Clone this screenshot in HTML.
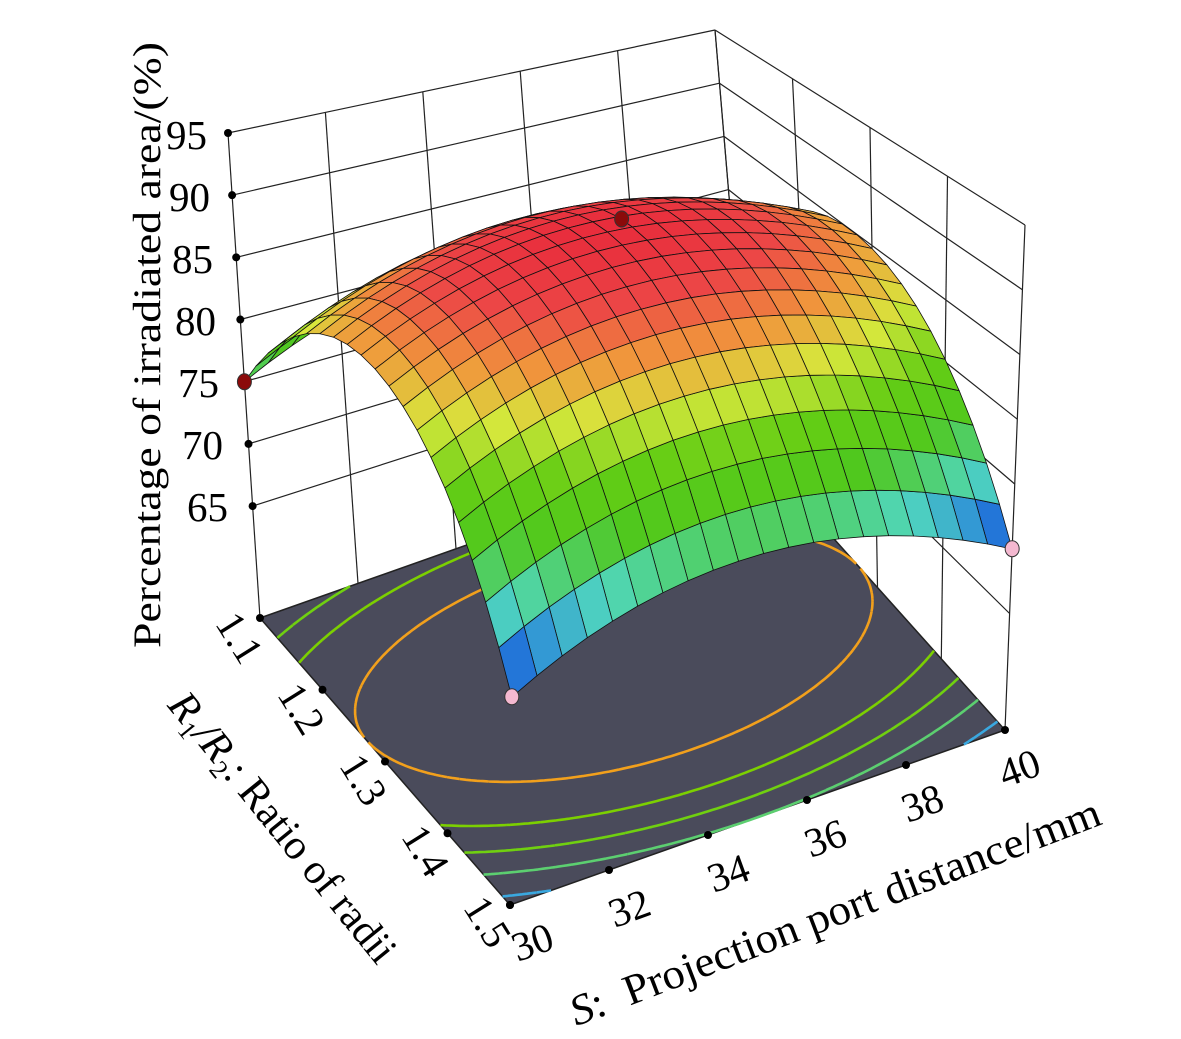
<!DOCTYPE html>
<html><head><meta charset="utf-8">
<style>
html,body{margin:0;padding:0;background:#fff;}
svg{display:block;}
text{font-family:"Liberation Serif",serif;fill:#000;}
</style></head>
<body>
<svg id="s" width="1181" height="1039" viewBox="0 0 1181 1039" xmlns="http://www.w3.org/2000/svg">
<g id="walls"></g>
<g id="floor"></g>
<g id="surf"></g>
<g id="over"></g>
<text x="207" y="149" font-size="41" text-anchor="end">95</text>
<text x="210" y="211" font-size="41" text-anchor="end">90</text>
<text x="213" y="273" font-size="41" text-anchor="end">85</text>
<text x="216" y="335" font-size="41" text-anchor="end">80</text>
<text x="219" y="397" font-size="41" text-anchor="end">75</text>
<text x="223" y="459" font-size="41" text-anchor="end">70</text>
<text x="228" y="521" font-size="41" text-anchor="end">65</text>
<text transform="translate(160,345) rotate(-90)" font-size="39" text-anchor="middle" textLength="606" lengthAdjust="spacingAndGlyphs">Percentage of irradiated area/(%)</text>
<text transform="translate(228,645) rotate(58)" font-size="41" text-anchor="middle">1.1</text>
<text transform="translate(290,716) rotate(58)" font-size="41" text-anchor="middle">1.2</text>
<text transform="translate(352,787) rotate(58)" font-size="41" text-anchor="middle">1.3</text>
<text transform="translate(414,858) rotate(58)" font-size="41" text-anchor="middle">1.4</text>
<text transform="translate(476,929) rotate(58)" font-size="41" text-anchor="middle">1.5</text>
<text transform="translate(272,836) rotate(51)" font-size="42" text-anchor="middle"><tspan font-style="italic">R</tspan><tspan font-size="26" dy="8">1</tspan><tspan dy="-8" font-style="italic">/R</tspan><tspan font-size="26" dy="8">2</tspan><tspan dy="-8">: Ratio of radii</tspan></text>
<text transform="translate(537,955) rotate(-20)" font-size="41" text-anchor="middle">30</text>
<text transform="translate(634,921) rotate(-20)" font-size="41" text-anchor="middle">32</text>
<text transform="translate(733,886) rotate(-20)" font-size="41" text-anchor="middle">34</text>
<text transform="translate(830,851) rotate(-20)" font-size="41" text-anchor="middle">36</text>
<text transform="translate(927,816) rotate(-20)" font-size="41" text-anchor="middle">38</text>
<text transform="translate(1024,781) rotate(-20)" font-size="41" text-anchor="middle">40</text>
<text transform="translate(840,925) rotate(-21)" font-size="43" text-anchor="middle" textLength="565" lengthAdjust="spacingAndGlyphs"><tspan font-style="italic">S</tspan>:&#160;&#160;Projection port distance/mm</text>
</svg>
<script>
var NS="http://www.w3.org/2000/svg";
var A=[260,618],B=[510,905],C=[1005,730],D=[750,445];
var At=[228,133],Bt=[515,325],Ct=[1025,225],Dt=[715,30];
var ZMIN=56,ZMAX=95;
function bil(P,Q,R,S,u,v){return [(1-u)*(1-v)*P[0]+u*(1-v)*Q[0]+u*v*R[0]+(1-u)*v*S[0],(1-u)*(1-v)*P[1]+u*(1-v)*Q[1]+u*v*R[1]+(1-u)*v*S[1]];}
function proj(u,v,z){var w=(z-ZMIN)/(ZMAX-ZMIN);var b=bil(A,B,C,D,u,v),t=bil(At,Bt,Ct,Dt,u,v);return [b[0]+(t[0]-b[0])*w,b[1]+(t[1]-b[1])*w];}
function f(u,v){var r=1.1+0.4*u,s=30+10*v;var dr=r-1.27;var zr=dr<0?346*dr*dr:284*dr*dr;return 90-0.2*(s-35)*(s-35)-zr;}
function el(tag,at,par){var e=document.createElementNS(NS,tag);for(var k in at)e.setAttribute(k,at[k]);document.getElementById(par).appendChild(e);return e;}
function line(p,q,par,st,sw){el('line',{x1:p[0].toFixed(1),y1:p[1].toFixed(1),x2:q[0].toFixed(1),y2:q[1].toFixed(1),stroke:st,'stroke-width':sw},par);}
var zs=[65,70,75,80,85,90,95];
for(var i=0;i<=5;i++){var v=i/5;line(proj(0,v,ZMIN),proj(0,v,ZMAX),'walls','#222',1.2);}
for(var i=0;i<=4;i++){var u=i/4;line(proj(u,1,ZMIN),proj(u,1,ZMAX),'walls','#222',1.2);}
zs.forEach(function(z){line(proj(0,0,z),proj(0,1,z),'walls','#222',1.2);line(proj(0,1,z),proj(1,1,z),'walls','#222',1.2);});
function pts(a){return a.map(function(p){return p[0].toFixed(1)+','+p[1].toFixed(1);}).join(' ');}
el('polygon',{points:pts([A,B,C,D]),fill:'#4a4b5b',stroke:'#222','stroke-width':1.5},'floor');
var levels=[[85,'#f2a01c'],[81,'#7cd000'],[78,'#70d010'],[75,'#5ccf70'],[71.5,'#3aa8e0']];
var N=120;
levels.forEach(function(L){var lv=L[0];var d='';
for(var i=0;i<N;i++)for(var j=0;j<N;j++){
 var u0=i/N,u1=(i+1)/N,v0=j/N,v1=(j+1)/N;
 var c=[[u0,v0,f(u0,v0)],[u1,v0,f(u1,v0)],[u1,v1,f(u1,v1)],[u0,v1,f(u0,v1)]];
 var ps=[];
 for(var k=0;k<4;k++){var a=c[k],b=c[(k+1)%4];if((a[2]-lv)*(b[2]-lv)<0){var t=(lv-a[2])/(b[2]-a[2]);ps.push([a[0]+(b[0]-a[0])*t,a[1]+(b[1]-a[1])*t]);}}
 if(ps.length>=2){var p=proj(ps[0][0],ps[0][1],ZMIN),q=proj(ps[1][0],ps[1][1],ZMIN);d+='M'+p[0].toFixed(1)+' '+p[1].toFixed(1)+'L'+q[0].toFixed(1)+' '+q[1].toFixed(1);}
}
el('path',{d:d,stroke:L[1],'stroke-width':2.6,fill:'none'},'floor');});
for(var i=0;i<=4;i++){var p=proj(i/4,0,ZMIN);el('circle',{cx:p[0],cy:p[1],r:4,fill:'#000'},'floor');}
for(var i=0;i<=5;i++){var p=proj(1,i/5,ZMIN);el('circle',{cx:p[0],cy:p[1],r:4,fill:'#000'},'floor');}
zs.forEach(function(z){var p=proj(0,0,z);el('circle',{cx:p[0],cy:p[1],r:4,fill:'#000'},'walls');});
var cm=[[0,[0,40,190]],[0.1,[40,130,220]],[0.22,[80,215,190]],[0.38,[80,200,30]],[0.52,[100,205,20]],[0.66,[215,232,60]],[0.78,[240,150,60]],[0.9,[236,70,70]],[1,[232,45,60]]];
function col(z){var t=(z-70)/20;t=Math.max(0,Math.min(1,t));for(var k=1;k<cm.length;k++){if(t<=cm[k][0]){var a=cm[k-1],b=cm[k];var s=(t-a[0])/(b[0]-a[0]);return 'rgb('+[0,1,2].map(function(m){return Math.round(a[1][m]+(b[1][m]-a[1][m])*s);}).join(',')+')';}}return 'rgb(232,45,60)';}
var M=20,quads=[];
for(var i=0;i<M;i++)for(var j=0;j<M;j++){
 var u0=i/M,u1=(i+1)/M,v0=j/M,v1=(j+1)/M;
 var zc=f((u0+u1)/2,(v0+v1)/2);
 var depth=((u0+u1)/2+(1-(v0+v1)/2))*0.65+((zc-ZMIN)/(ZMAX-ZMIN))*0.75;
 quads.push({d:depth,p:[proj(u0,v0,f(u0,v0)),proj(u1,v0,f(u1,v0)),proj(u1,v1,f(u1,v1)),proj(u0,v1,f(u0,v1))],c:col(zc)});
}
quads.sort(function(a,b){return a.d-b.d;});
quads.forEach(function(q){el('polygon',{points:pts(q.p),fill:q.c,stroke:'#111','stroke-width':0.8,'stroke-linejoin':'round'},'surf');});
function dot(u,v,z,fill){var p=proj(u,v,z);el('ellipse',{cx:p[0],cy:p[1],rx:7,ry:8,fill:fill,stroke:'#333','stroke-width':1},'over');}
dot(0,0,75,'#8b0a0a');
dot(0.5,0.5,91.8,'#8b0a0a');
dot(1,0,70,'#f4b8d0');
dot(1,1,70,'#f4b8d0');
</script>
</body></html>
